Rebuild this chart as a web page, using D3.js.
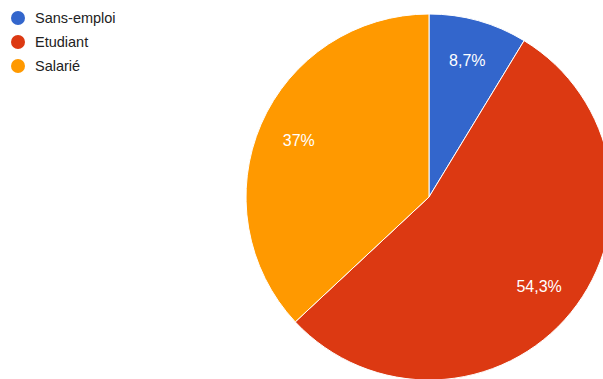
<!DOCTYPE html>
<html>
<head>
<meta charset="utf-8">
<script src="https://cdn.jsdelivr.net/npm/d3@7"></script>
<style>
  html, body { margin: 0; padding: 0; background: #fff; }
  svg { display: block; font-family: Arial, "Liberation Sans", sans-serif; }
</style>
</head>
<body>
<svg id="chart" width="603" height="379"></svg>
<script>
// Répartition des répondants par situation
const categories = ["Sans-emploi", "Etudiant", "Salarié"];
const counts = [4, 25, 17];
const percentLabels = ["8,7%", "54,3%", "37%"];
const colors = ["#3366cc", "#dc3912", "#ff9900"];

const svg = d3.select("#chart");
const cx = 429, cy = 197, radius = 183, labelRadius = 142;

const data = categories.map((c, i) => ({ name: c, value: counts[i], label: percentLabels[i], color: colors[i] }));

const pie = d3.pie().value(d => d.value).sort(null);
const arcs = pie(data);
const arc = d3.arc().innerRadius(0).outerRadius(radius);
const labelArc = d3.arc().innerRadius(labelRadius).outerRadius(labelRadius);

const g = svg.append("g").attr("transform", `translate(${cx},${cy})`);

g.selectAll("path.slice")
  .data(arcs)
  .join("path")
  .attr("class", "slice")
  .attr("d", arc)
  .attr("fill", d => d.data.color)
  .attr("stroke", "#ffffff")
  .attr("stroke-width", 1);

g.selectAll("text.pct")
  .data(arcs)
  .join("text")
  .attr("class", "pct")
  .attr("transform", d => `translate(${labelArc.centroid(d)})`)
  .attr("text-anchor", "middle")
  .attr("dominant-baseline", "central")
  .attr("fill", "#ffffff")
  .attr("font-size", 16)
  .text(d => d.data.label);

// Légende
const legend = svg.append("g").attr("transform", "translate(18,18)");
const rows = legend.selectAll("g.row")
  .data(data)
  .join("g")
  .attr("class", "row")
  .attr("transform", (d, i) => `translate(0,${i * 24})`);

rows.append("circle")
  .attr("r", 7)
  .attr("fill", d => d.color);

rows.append("text")
  .attr("x", 17)
  .attr("dominant-baseline", "central")
  .attr("font-size", 14.5)
  .attr("fill", "#222222")
  .text(d => d.name);
</script>
</body>
</html>
